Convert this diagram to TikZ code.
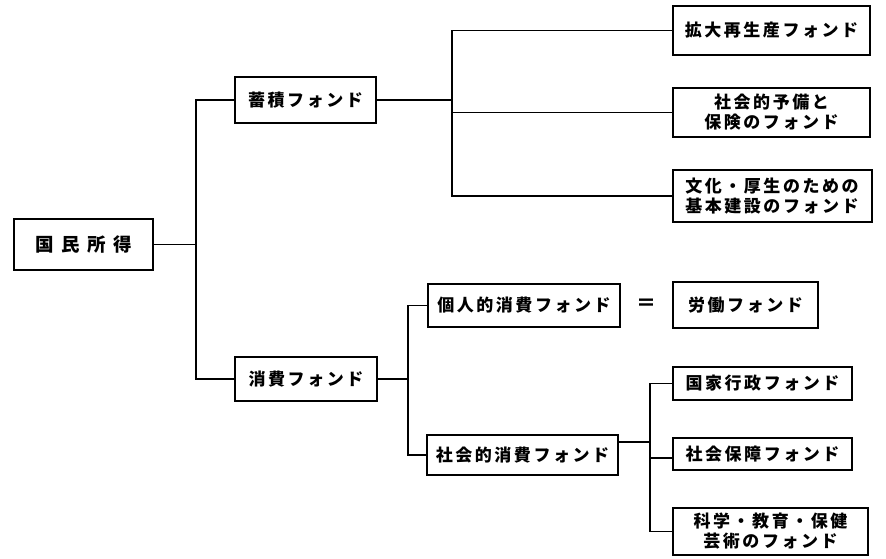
\documentclass[tikz,border=0pt]{standalone}
\usepackage{fontspec}
\newfontfamily\jpfont[LetterSpace=15]{Noto Sans CJK JP}
\newfontfamily\jpwide[LetterSpace=40]{Noto Sans CJK JP}
\begin{document}
\begin{tikzpicture}[x=1pt,y=-1pt,
  box/.style={draw, line width=2pt, inner sep=0pt, align=center,
    font=\jpfont\bfseries\fontsize{17}{20}\selectfont},
  link/.style={line width=1.7pt}]
\useasboundingbox[fill=white] (0,0) rectangle (886,558);
% nodes
\node[box, minimum width=139pt, minimum height=51pt,
  font=\jpwide\bfseries\fontsize{18.5}{20}\selectfont] (A) at (83.5,244.5) {国民所得};
\node[box, minimum width=141pt, minimum height=46pt] (B) at (305.5,100) {蓄積フォンド};
\node[box, minimum width=142pt, minimum height=44pt] (C) at (306,379) {消費フォンド};
\node[box, minimum width=197pt, minimum height=49pt] (D1) at (771.5,30.5) {拡大再生産フォンド};
\node[box, minimum width=197pt, minimum height=49pt] (D2) at (771.5,112.5) {社会的予備と\\保険のフォンド};
\node[box, minimum width=199pt, minimum height=52pt] (D3) at (772,196) {文化・厚生のための\\基本建設のフォンド};
\node[box, minimum width=192pt, minimum height=43pt] (E1) at (524,305.5) {個人的消費フォンド};
\node[box, minimum width=145pt, minimum height=46pt] (E2) at (745.5,305) {労働フォンド};
\node[font=\jpfont\bfseries\fontsize{20}{20}\selectfont] (eq) at (646,305) {＝};
\node[box, minimum width=191pt, minimum height=40pt] (F) at (522.5,455) {社会的消費フォンド};
\node[box, minimum width=179pt, minimum height=33pt] (G1) at (762.5,383.5) {国家行政フォンド};
\node[box, minimum width=179pt, minimum height=32pt] (G2) at (762.5,454) {社会保障フォンド};
\node[box, minimum width=195pt, minimum height=47pt] (G3) at (770.5,531.5) {科学・教育・保健\\芸術のフォンド};
% junctions
\coordinate (j1) at (196,244.5);
\coordinate (j2) at (452,112.5);
\coordinate (j3) at (408,379);
\coordinate (j4) at (650,442);
% connectors
\draw[link] (A.east) -- (j1);
\draw[link] (B.west) -| (j1) |- (C.west);
\draw[link] (B.east) -- (B.east -| j2);
\draw[link] (D1.west) -| (j2) |- (D3.west);
\draw[link] (j2) -- (D2.west);
\draw[link] (C.east) -- (j3);
\draw[link] (E1.west) -| (j3) |- (F.west);
\draw[link] ([yshift=13pt]F.east) -- (j4);
\draw[link] (G1.west) -| (j4) |- (G3.west);
\draw[link] ([yshift=-4pt]j4 |- G2.west) -- ([yshift=-4pt]G2.west);
\end{tikzpicture}
\end{document}
